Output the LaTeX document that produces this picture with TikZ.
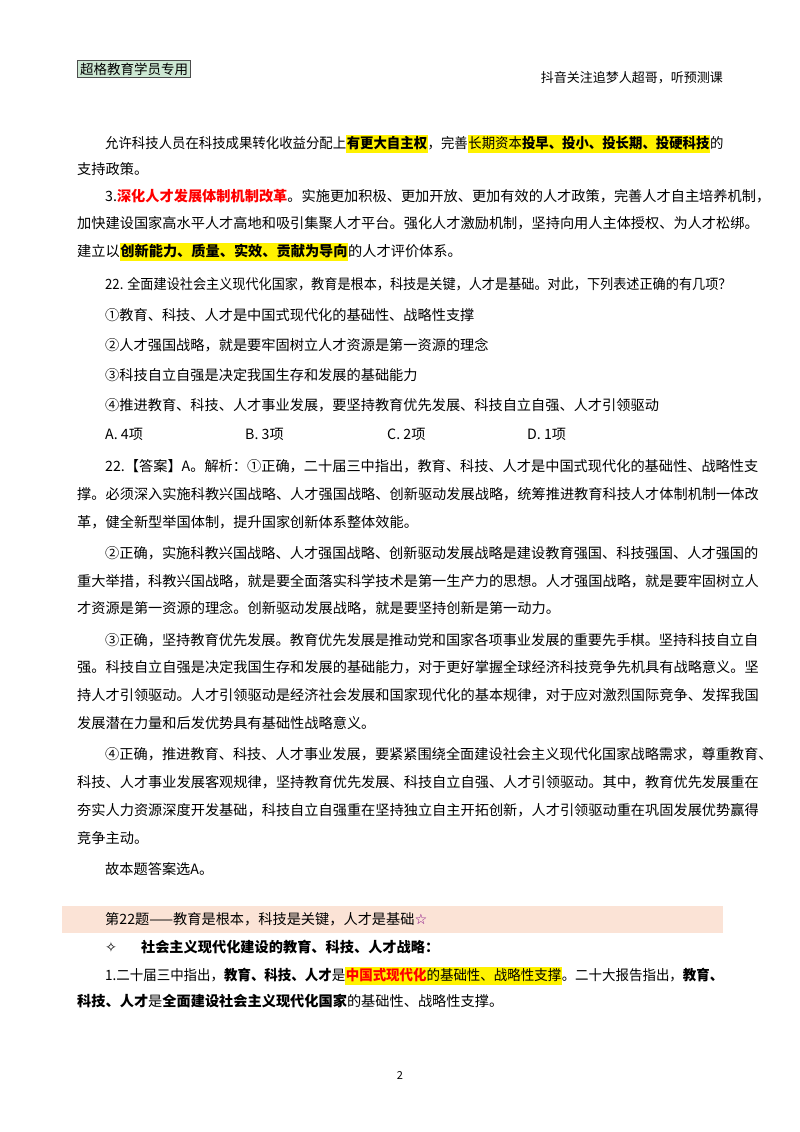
\documentclass[tikz,border=0pt]{standalone}
\usepackage{fontspec}
\setmainfont{Noto Sans CJK SC}
\newfontfamily\symf{DejaVu Sans}
\newcommand\hlx[1]{{\setlength{\fboxsep}{0.6pt}\colorbox{yellow}{\strut #1}}}
\definecolor{pinkbg}{HTML}{FBE3D6}
\definecolor{hdrbg}{HTML}{CDE8D3}
\tikzset{ln/.style={anchor=base west,inner sep=0pt,font=\fontsize{14.2}{14.2}\selectfont}}
\begin{document}
\begin{tikzpicture}[x=1pt,y=-1pt]
\useasboundingbox (0,0) rectangle (800,1132);
\fill[white] (0,0) rectangle (800,1132);
\node[draw=black!70,line width=1pt,fill=hdrbg,inner sep=2.5pt,anchor=west,font=\fontsize{13.5}{13.5}\selectfont] (hdr) at (77,69) {超格教育学员专用};
\node[anchor=base east,inner sep=0pt,font=\fontsize{13}{13}\selectfont] (hdr2) at (723,82) {抖音关注追梦人超哥，听预测课};
\node[ln] (l1) at (105,148) {\scalebox{0.943}[1]{允许科技人员在科技成果转化收益分配上\hlx{\bfseries 有更大自主权}，完善\hlx{长期资本\bfseries 投早、投小、投长期、投硬科技}的}};
\node[ln] (l2) at (77,174) {支持政策。};
\node[ln] (l3) at (105,201) {3.\textcolor{red}{\bfseries 深化人才发展体制机制改革}。实施更加积极、更加开放、更加有效的人才政策，完善人才自主培养机制，};
\node[ln] (l4) at (77,228) {加快建设国家高水平人才高地和吸引集聚人才平台。强化人才激励机制，坚持向用人主体授权、为人才松绑。};
\node[ln] (l5) at (77,256) {建立以\hlx{\bfseries 创新能力、质量、实效、贡献为导向}的人才评价体系。};
\node[ln] (q) at (105,289) {\scalebox{0.925}[1]{22. 全面建设社会主义现代化国家，教育是根本，科技是关键，人才是基础。对此，下列表述正确的有几项？}};
\node[ln] (o1) at (105,320) {①教育、科技、人才是中国式现代化的基础性、战略性支撑};
\node[ln] (o2) at (105,350) {②人才强国战略，就是要牢固树立人才资源是第一资源的理念};
\node[ln] (o3) at (105,380) {③科技自立自强是决定我国生存和发展的基础能力};
\node[ln] (o4) at (105,410) {④推进教育、科技、人才事业发展，要坚持教育优先发展、科技自立自强、人才引领驱动};
\node[ln] (ca) at (105,439) {A. 4项};
\node[ln] (cb) at (245,439) {B. 3项};
\node[ln] (cc) at (387,439) {C. 2项};
\node[ln] (cd) at (527,439) {D. 1项};
\node[ln] (a1) at (105,471) {22.【答案】A。解析：①正确，二十届三中指出，教育、科技、人才是中国式现代化的基础性、战略性支};
\node[ln] (a2) at (77,499) {撑。必须深入实施科教兴国战略、人才强国战略、创新驱动发展战略，统筹推进教育科技人才体制机制一体改};
\node[ln] (a3) at (77,527) {革，健全新型举国体制，提升国家创新体系整体效能。};
\node[ln] (b1) at (105,558) {②正确，实施科教兴国战略、人才强国战略、创新驱动发展战略是建设教育强国、科技强国、人才强国的};
\node[ln] (b2) at (77,586) {重大举措，科教兴国战略，就是要全面落实科学技术是第一生产力的思想。人才强国战略，就是要牢固树立人};
\node[ln] (b3) at (77,613) {才资源是第一资源的理念。创新驱动发展战略，就是要坚持创新是第一动力。};
\node[ln] (c1) at (105,645) {③正确，坚持教育优先发展。教育优先发展是推动党和国家各项事业发展的重要先手棋。坚持科技自立自};
\node[ln] (c2) at (77,672) {强。科技自立自强是决定我国生存和发展的基础能力，对于更好掌握全球经济科技竞争先机具有战略意义。坚};
\node[ln] (c3) at (77,700) {持人才引领驱动。人才引领驱动是经济社会发展和国家现代化的基本规律，对于应对激烈国际竞争、发挥我国};
\node[ln] (c4) at (77,728) {发展潜在力量和后发优势具有基础性战略意义。};
\node[ln] (d1) at (105,759) {④正确，推进教育、科技、人才事业发展，要紧紧围绕全面建设社会主义现代化国家战略需求，尊重教育、};
\node[ln] (d2) at (77,787) {科技、人才事业发展客观规律，坚持教育优先发展、科技自立自强、人才引领驱动。其中，教育优先发展重在};
\node[ln] (d3) at (77,815) {夯实人力资源深度开发基础，科技自立自强重在坚持独立自主开拓创新，人才引领驱动重在巩固发展优势赢得};
\node[ln] (d4) at (77,843) {竞争主动。};
\node[ln] (fin) at (105,874) {故本题答案选A。};
\fill[pinkbg] (62,906) rectangle (723,933);
\node[ln] (band) at (105,924) {第22题——教育是根本，科技是关键，人才是基础\textcolor{violet}{\symf ☆}};
\node[ln] (s0) at (105,952) {{\symf ✧}\hspace{24pt}\bfseries 社会主义现代化建设的教育、科技、人才战略：};
\node[ln] (s1) at (105,980) {\scalebox{0.948}[1]{1.二十届三中指出，{\bfseries 教育、科技、人才}是\hlx{\textcolor{red}{\bfseries 中国式现代化}的基础性、战略性支撑}。二十大报告指出，{\bfseries 教育、}}};
\node[ln] (s2) at (77,1006) {{\bfseries 科技、人才}是{\bfseries 全面建设社会主义现代化国家}的基础性、战略性支撑。};
\node[anchor=base,inner sep=0pt,font=\fontsize{11}{11}\selectfont] (pg) at (400,1079) {2};
\end{tikzpicture}
\end{document}
